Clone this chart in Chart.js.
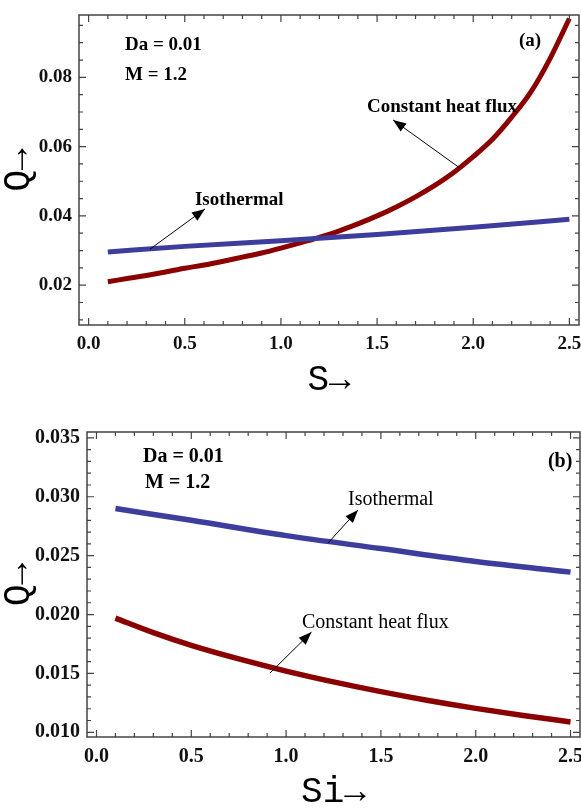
<!DOCTYPE html>
<html>
<head>
<meta charset="utf-8">
<script src="https://cdn.jsdelivr.net/npm/chart.js@4.4.0/dist/chart.umd.min.js"></script>
<style>
  html, body { margin: 0; padding: 0; background: #fff; }
  canvas { display: block; }
</style>
</head>
<body>
<canvas id="chartA" width="581" height="400"></canvas>
<canvas id="chartB" width="581" height="410"></canvas>
<script>
// (a) flow rate Q against S
var sIso = [0.1, 0.5, 1.0, 1.5, 2.0, 2.5];
var qIsoA = [0.0296, 0.0312, 0.0328, 0.0346, 0.0367, 0.0390];
var sFlux = [0.1, 0.2, 0.3, 0.4, 0.5, 0.6, 0.7, 0.8, 0.9, 1.0, 1.1, 1.2, 1.3,
             1.4, 1.5, 1.6, 1.7, 1.8, 1.9, 2.0, 2.1, 2.2, 2.3, 2.4, 2.5];
var qFluxA = [0.0210, 0.0219, 0.0228, 0.0238, 0.0249, 0.0258, 0.0269, 0.0281, 0.0293, 0.0307,
              0.0322, 0.0338, 0.0356, 0.0377, 0.0400, 0.0426, 0.0455, 0.0488, 0.0526, 0.0571,
              0.0621, 0.0685, 0.0758, 0.0855, 0.0970];

// (b) flow rate Q against Si
var siIso = [0.1, 0.5, 1.0, 1.5, 2.0, 2.5];
var qIsoB = [0.0290, 0.0280, 0.0267, 0.0256, 0.0245, 0.0236];
var siFlux = [0.1, 0.3, 0.5, 0.75, 1.0, 1.25, 1.5, 1.75, 2.0, 2.25, 2.5];
var qFluxB = [0.0197, 0.01846, 0.01738, 0.01623, 0.0152, 0.01428, 0.01345, 0.0127, 0.01203, 0.01143, 0.01088];

var xTicks = [0, 0.5, 1.0, 1.5, 2.0, 2.5];
var yTicksA = [0.02, 0.04, 0.06, 0.08];
var yTicksB = [0.010, 0.015, 0.020, 0.025, 0.030, 0.035];

var SERIF = '"Liberation Serif", "Times New Roman", serif';
var MONO = '"Liberation Mono", "Courier New", monospace';
var RED = '#8b0000';
var BLUE = '#3d3d9d';

function pts(xs, ys) {
    return xs.map(function(x, i) { return { x: x, y: ys[i] }; });
}

// frame with inward ticks on all four sides, plus text notes and arrows
var framePlugin = {
    id: 'frameTicks',
    afterDatasetsDraw: function(chart, args, o) {
        var ctx = chart.ctx, a = chart.chartArea;
        var xs = chart.scales.x, ys = chart.scales.y;
        ctx.save();
        ctx.strokeStyle = '#444';
        ctx.lineWidth = 1.5;
        ctx.strokeRect(a.left, a.top, a.right - a.left, a.bottom - a.top);
        ctx.lineWidth = 1.2;
        ctx.beginPath();
        var i, v, p, len;
        for (i = Math.ceil(xs.min / o.xMinor); i * o.xMinor <= xs.max; i++) {
            v = i * o.xMinor;
            len = Math.abs(v / o.xMajor - Math.round(v / o.xMajor)) < 1e-6 ? 7 : 4;
            p = xs.getPixelForValue(v);
            ctx.moveTo(p, a.bottom); ctx.lineTo(p, a.bottom - len);
            ctx.moveTo(p, a.top); ctx.lineTo(p, a.top + len);
        }
        for (i = Math.ceil(ys.min / o.yMinor - 1e-6); i * o.yMinor <= ys.max + 1e-9; i++) {
            v = i * o.yMinor;
            len = Math.abs(v / o.yMajor - Math.round(v / o.yMajor)) < 1e-6 ? 7 : 4;
            p = ys.getPixelForValue(v);
            ctx.moveTo(a.left, p); ctx.lineTo(a.left + len, p);
            ctx.moveTo(a.right, p); ctx.lineTo(a.right - len, p);
        }
        ctx.stroke();

        ctx.fillStyle = '#000';
        ctx.textBaseline = 'middle';
        ctx.textAlign = 'left';
        (o.notes || []).forEach(function(n) {
            ctx.font = n.font;
            ctx.fillText(n.text, xs.getPixelForValue(n.x), ys.getPixelForValue(n.y));
        });

        ctx.strokeStyle = '#000';
        ctx.lineWidth = 1;
        (o.arrows || []).forEach(function(ar) {
            var x0 = xs.getPixelForValue(ar.from[0]), y0 = ys.getPixelForValue(ar.from[1]);
            var x1 = xs.getPixelForValue(ar.to[0]), y1 = ys.getPixelForValue(ar.to[1]);
            var ang = Math.atan2(y1 - y0, x1 - x0);
            ctx.beginPath();
            ctx.moveTo(x0, y0); ctx.lineTo(x1, y1);
            ctx.stroke();
            ctx.beginPath();
            ctx.moveTo(x1, y1);
            ctx.lineTo(x1 - 13 * Math.cos(ang) + 5 * Math.sin(ang), y1 - 13 * Math.sin(ang) - 5 * Math.cos(ang));
            ctx.lineTo(x1 - 13 * Math.cos(ang) - 5 * Math.sin(ang), y1 - 13 * Math.sin(ang) + 5 * Math.cos(ang));
            ctx.closePath();
            ctx.fill();
        });
        ctx.restore();
    }
};

function makeChart(id, cfg) {
    return new Chart(document.getElementById(id), {
        type: 'scatter',
        data: {
            datasets: [
                { label: 'Isothermal', data: cfg.iso, borderColor: BLUE, borderWidth: cfg.lw,
                  showLine: true, pointRadius: 0, cubicInterpolationMode: 'monotone', clip: 0 },
                { label: 'Constant heat flux', data: cfg.flux, borderColor: RED, borderWidth: cfg.lw,
                  showLine: true, pointRadius: 0, cubicInterpolationMode: 'monotone', clip: 0 }
            ]
        },
        options: {
            responsive: false,
            animation: false,
            layout: { padding: { top: cfg.padTop, right: cfg.padRight, left: 0, bottom: 0 } },
            plugins: {
                legend: { display: false },
                tooltip: { enabled: false },
                frameTicks: {
                    xMajor: 0.5, xMinor: 0.1, yMajor: cfg.yMajor, yMinor: cfg.yMinor,
                    notes: cfg.notes, arrows: cfg.arrows
                }
            },
            scales: {
                x: {
                    type: 'linear', min: -0.05, max: 2.55,
                    grid: { display: false, drawTicks: false },
                    border: { display: false },
                    ticks: {
                        color: '#111', padding: 8, maxRotation: 0, autoSkip: false,
                        font: { family: SERIF, size: cfg.tickSize, weight: 'bold' },
                        callback: function(v) { return v.toFixed(1); }
                    },
                    afterBuildTicks: function(s) { s.ticks = xTicks.map(function(v) { return { value: v }; }); },
                    afterFit: function(s) {
                        s.height = cfg.xHeight;
                        // let the last label run off the edge instead of shrinking the plot
                        s.paddingLeft = 0;
                        s.paddingRight = 0;
                    },
                    title: { display: true, text: cfg.xTitle, color: '#000',
                             font: { family: MONO, size: 36, lineHeight: 1 },
                             padding: { top: 0, bottom: cfg.xTitlePad } }
                },
                y: {
                    type: 'linear', min: cfg.yMin, max: cfg.yMax,
                    grid: { display: false, drawTicks: false },
                    border: { display: false },
                    ticks: {
                        color: '#111', padding: 7, autoSkip: false,
                        font: { family: SERIF, size: cfg.tickSize, weight: 'bold' },
                        callback: function(v) { return v.toFixed(cfg.yDigits); }
                    },
                    afterBuildTicks: function(s) { s.ticks = cfg.yTicks.map(function(v) { return { value: v }; }); },
                    afterFit: function(s) {
                        s.width = cfg.yWidth;
                        s.paddingTop = 0;
                        s.paddingBottom = 0;
                    },
                    title: { display: true, text: 'Q→', color: '#000',
                             font: { family: MONO, size: 36, lineHeight: 1 },
                             padding: { top: 0, bottom: 0 } }
                }
            }
        },
        plugins: [framePlugin]
    });
}

var boldA = 'bold 19px ' + SERIF;
makeChart('chartA', {
    iso: pts(sIso, qIsoA), flux: pts(sFlux, qFluxA), lw: 5,
    padTop: 15, padRight: 2, xHeight: 75, yWidth: 79, xTitle: 'S→', xTitlePad: 2,
    yMin: 0.0085, yMax: 0.098, yTicks: yTicksA, yDigits: 2, yMajor: 0.02, yMinor: 0.005,
    tickSize: 19,
    notes: [
        { text: 'Da = 0.01', x: 0.189, y: 0.0893, font: boldA },
        { text: 'M = 1.2', x: 0.189, y: 0.0807, font: boldA },
        { text: '(a)', x: 2.238, y: 0.0905, font: boldA },
        { text: 'Constant heat flux', x: 1.448, y: 0.0714, font: boldA },
        { text: 'Isothermal', x: 0.553, y: 0.0446, font: boldA }
    ],
    arrows: [
        { from: [1.931, 0.0538], to: [1.583, 0.0677] },
        { from: [0.319, 0.0304], to: [0.605, 0.0420] }
    ]
});

var boldB = 'bold 20px ' + SERIF;
var plainB = '20px ' + SERIF;
makeChart('chartB', {
    iso: pts(siIso, qIsoB), flux: pts(siFlux, qFluxB), lw: 5.5,
    padTop: 32, padRight: 1, xHeight: 73, yWidth: 87, xTitle: 'Si→', xTitlePad: 0,
    yMin: 0.0096, yMax: 0.0355, yTicks: yTicksB, yDigits: 3, yMajor: 0.005, yMinor: 0.001,
    tickSize: 20,
    notes: [
        { text: 'Da = 0.01', x: 0.245, y: 0.03338, font: boldB },
        { text: 'M = 1.2', x: 0.256, y: 0.03117, font: boldB },
        { text: '(b)', x: 2.381, y: 0.03295, font: boldB },
        { text: 'Isothermal', x: 1.327, y: 0.02973, font: plainB },
        { text: 'Constant heat flux', x: 1.084, y: 0.01928, font: plainB }
    ],
    arrows: [
        { from: [1.221, 0.02607], to: [1.379, 0.02888] },
        { from: [0.915, 0.01503], to: [1.134, 0.01851] }
    ]
});
</script>
</body>
</html>
